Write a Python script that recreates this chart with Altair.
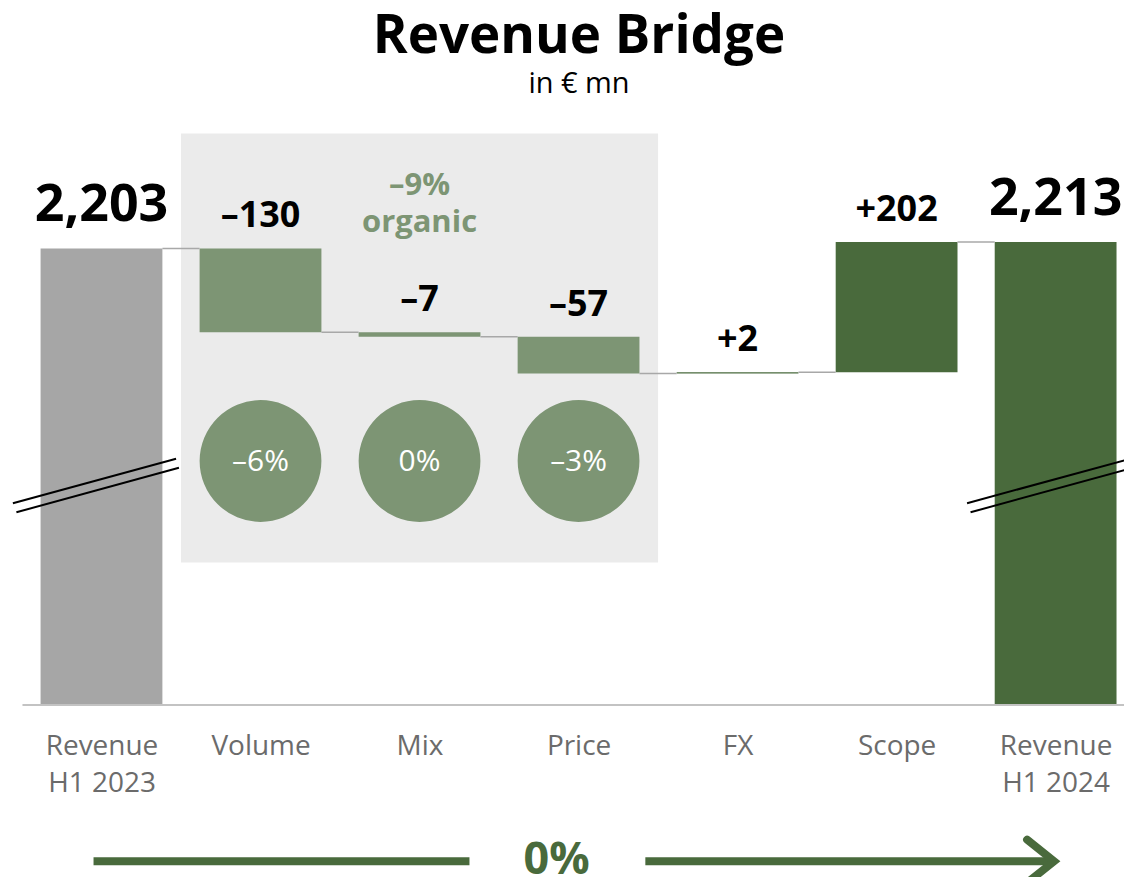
import json
import altair as alt
import pandas as pd

# ---------------- data ----------------
categories = ["Revenue H1 2023", "Volume", "Mix", "Price", "FX", "Scope", "Revenue H1 2024"]
axis_lines = [["Revenue", "H1 2023"], ["Volume"], ["Mix"], ["Price"], ["FX"], ["Scope"], ["Revenue", "H1 2024"]]
values = [2203, -130, -7, -57, 2, 202, 2213]
kinds = ["start", "organic", "organic", "organic", "other", "other", "end"]
organic_share = ["–6%", "0%", "–3%"]
organic_total = ["–9%", "organic"]
total_change = "0%"

# ---------------- layout constants ----------------
Y_MIN, Y_MAX = 1496, 2381          # broken value axis
HALF = 0.383                       # half bar width, in category units
FONT = "Open Sans"
LIGHT = "#7d9574"
DARK = "#496a3c"
GREY = "#a6a6a6"

rows = []
running = 0
for i, (c, v, k) in enumerate(zip(categories, values, kinds)):
    if k in ("start", "end"):
        lo, hi = Y_MIN, v
        running = v
        label = f"{v:,}"
    else:
        lo, hi = running, running + v
        running += v
        label = f"{v:+d}".replace("-", "–")
    rows.append(dict(i=i, cat=c, kind=k, x0=i - HALF, x1=i + HALF,
                     start=lo, end=hi, top=max(lo, hi), label=label, level=running))
df = pd.DataFrame(rows)

conn = pd.DataFrame([dict(x0=r["i"] + HALF, x1=r["i"] + 1 - HALF, level=r["level"])
                     for r in rows[:-1]])

org_idx = [r["i"] for r in rows if r["kind"] == "organic"]
org_df = pd.DataFrame(dict(i=org_idx, pct=organic_share))
box_df = pd.DataFrame([dict(x0=min(org_idx) - 0.5, x1=max(org_idx) + 0.5, y0=Y_MAX, y1=1716)])
org_lbl = pd.DataFrame([dict(i=sum(org_idx) / len(org_idx))])

tot_idx = [r["i"] for r in rows if r["kind"] in ("start", "end")]
brk = []
for t in tot_idx:
    brk.append(dict(x0=t - 0.557, x1=t + 0.469, y0=1808, y1=1877))
    brk.append(dict(x0=t - 0.535, x1=t + 0.487, y0=1794, y1=1863))
brk_df = pd.DataFrame(brk)

arrow_seg = pd.DataFrame([dict(x0=-0.05, x1=2.314), dict(x0=3.42, x1=5.99)])
arrow_tip = pd.DataFrame([dict(x=5.99)])
arrow_txt = pd.DataFrame([dict(x=2.862, t=total_change)])

# ---------------- scales ----------------
xscale = alt.Scale(domain=[-0.5, 6.43], nice=False, zero=False)
yscale = alt.Scale(domain=[Y_MIN, Y_MAX], nice=False, zero=False)
label_expr = json.dumps(axis_lines) + "[datum.value]"
xaxis = alt.Axis(values=list(range(len(categories))), labelExpr=label_expr, title=None,
                 ticks=False, grid=False, domainColor="#c3c3c3", domainWidth=2,
                 labelFont=FONT, labelFontSize=28, labelColor="#6b6b6b",
                 labelLineHeight=37, labelPadding=28, labelFlush=False,
                 labelOverlap=False, zindex=1)


def X(f):
    return alt.X(f"{f}:Q", scale=xscale, axis=xaxis)


def Y(f):
    return alt.Y(f"{f}:Q", scale=yscale, axis=None)


box = alt.Chart(box_df).mark_rect(color="#ebebeb").encode(
    x=X("x0"), x2="x1", y=Y("y0"), y2="y1")

bars = alt.Chart(df).mark_rect().encode(
    x=X("x0"), x2="x1", y=Y("start"), y2="end",
    color=alt.Color("kind:N", legend=None,
                    scale=alt.Scale(domain=["start", "organic", "other", "end"],
                                    range=[GREY, LIGHT, DARK, DARK])))

connectors = alt.Chart(conn).mark_rule(color="#a8a8a8", strokeWidth=1.5).encode(
    x=X("x0"), x2="x1", y=Y("level"))

tot_labels = alt.Chart(df).transform_filter(
    "datum.kind == 'start' || datum.kind == 'end'").mark_text(
    font=FONT, fontSize=52, fontWeight="bold", color="black",
    baseline="alphabetic", dy=-27).encode(x=X("i"), y=Y("top"), text="label:N")

delta_labels = alt.Chart(df).transform_filter(
    "datum.kind != 'start' && datum.kind != 'end'").mark_text(
    font=FONT, fontSize=36, fontWeight="bold", color="black",
    baseline="alphabetic", dy=-21).encode(x=X("i"), y=Y("top"), text="label:N")

org_text = alt.Chart(org_lbl).mark_text(
    text=organic_total, font=FONT, fontSize=31, fontWeight="bold", color=LIGHT,
    baseline="alphabetic", lineHeight=37).encode(x=X("i"), y=alt.value(62))

circles = alt.Chart(org_df).mark_circle(color=LIGHT, opacity=1, size=14884).encode(
    x=X("i"), y=alt.value(328))

circle_txt = alt.Chart(org_df).mark_text(
    font=FONT, fontSize=30, color="white", baseline="middle").encode(
    x=X("i"), y=alt.value(329), text="pct:N")

breaks = alt.Chart(brk_df).mark_rule(color="black", strokeWidth=2).encode(
    x=X("x0"), x2="x1", y=Y("y0"), y2="y1")

arrow_lines = alt.Chart(arrow_seg).mark_rule(color=DARK, strokeWidth=8).encode(
    x=X("x0"), x2="x1", y=alt.value(729))

arrow_head = alt.Chart(arrow_tip).mark_point(
    shape="M -1 -0.8 L 0 0 L -1 0.8", filled=False, color=DARK, strokeWidth=8,
    strokeCap="round", strokeJoin="miter", size=2916, opacity=1).encode(
    x=X("x"), y=alt.value(729))

arrow_text = alt.Chart(arrow_txt).mark_text(
    font=FONT, fontSize=45, fontWeight="bold", color=DARK, baseline="alphabetic").encode(
    x=X("x"), y=alt.value(742), text="t:N")

chart = alt.layer(
    box, bars, connectors, tot_labels, delta_labels, org_text, circles, circle_txt,
    breaks, arrow_lines, arrow_head, arrow_text
).properties(
    width=1104, height=572,
    background="white",
    title=alt.TitleParams(text="Revenue Bridge", subtitle="in € mn", font=FONT,
                          fontSize=53, fontWeight="bold", color="black",
                          subtitleFont=FONT, subtitleFontSize=29, subtitleColor="black",
                          anchor="middle", dx=6, offset=35, subtitlePadding=6),
    autosize=alt.AutoSizeParams(type="none"),
    padding={"left": 14, "top": 125, "right": 0, "bottom": 172},
).configure_view(stroke=None)

chart.save("out.html", embed_options={"renderer": "svg", "actions": False})
